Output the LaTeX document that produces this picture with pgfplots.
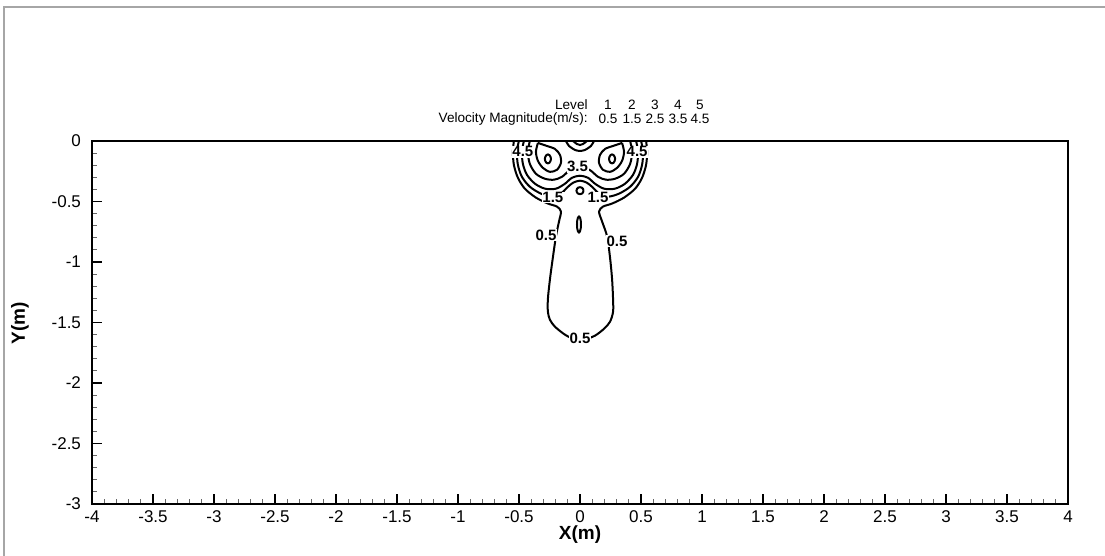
\documentclass[border=0pt]{standalone}
\usepackage{pgfplots}
\pgfplotsset{compat=1.18}
\usepackage{fontspec}
\setmainfont{Liberation Sans}
\begin{document}
\begin{tikzpicture}[x=1pt,y=1pt]
\useasboundingbox (0,0) rectangle (552.5,278);
\draw[gray!70, line width=0.6pt] (2,0) -- (2,274.5) -- (552.5,274.5);
\begin{axis}[
  at={(46pt,26pt)}, anchor=south west,
  scale only axis, width=488pt, height=181.5pt,
  xmin=-4, xmax=4, ymin=-3, ymax=0,
  xtick distance=0.5, ytick distance=0.5,
  minor tick num=4,
  xtick pos=bottom, ytick pos=left,
  tick align=inside,
  major tick length=5pt, minor tick length=2.5pt,
  axis line style={line width=1.2pt},
  major tick style={line width=0.9pt, black},
  minor tick style={line width=0.5pt, black!60},
  every tick label/.append style={font=\fontsize{8.5}{9}\selectfont},
  yticklabel style={xshift=-2pt},
  /pgf/number format/assume math mode=true,
  clip=true,
]
% level 0.5 outer
\addplot[black, line width=1pt, smooth, tension=0.5] coordinates {
(-0.542,0) (-0.550,-0.090) (-0.542,-0.197) (-0.509,-0.304) (-0.452,-0.394) (-0.361,-0.468) (-0.263,-0.517) (-0.189,-0.542) (-0.156,-0.583) (-0.172,-0.665) (-0.197,-0.788) (-0.222,-0.961) (-0.246,-1.141) (-0.263,-1.305) (-0.263,-1.412) (-0.246,-1.478) (-0.205,-1.535) (-0.123,-1.601) (-0.057,-1.634) (0,-1.642) (0.057,-1.634) (0.123,-1.609) (0.197,-1.552) (0.246,-1.494) (0.271,-1.412) (0.271,-1.305) (0.263,-1.141) (0.246,-0.961) (0.222,-0.788) (0.181,-0.665) (0.156,-0.583) (0.189,-0.542) (0.263,-0.517) (0.361,-0.468) (0.452,-0.394) (0.509,-0.304) (0.542,-0.197) (0.550,-0.090) (0.542,0)
};
% level 1.5
\addplot[black, line width=1pt, smooth, tension=0.5] coordinates {
(-0.501,0) (-0.517,-0.090) (-0.509,-0.197) (-0.476,-0.296) (-0.411,-0.378) (-0.320,-0.435) (-0.230,-0.460) (-0.156,-0.435) (-0.107,-0.386) (-0.057,-0.345) (0,-0.328) (0.057,-0.345) (0.107,-0.386) (0.156,-0.435) (0.230,-0.460) (0.320,-0.435) (0.411,-0.378) (0.476,-0.296) (0.509,-0.197) (0.517,-0.090) (0.501,0)
};
% level 2.5
\addplot[black, line width=1pt, smooth, tension=0.5] coordinates {
(-0.460,0) (-0.476,-0.090) (-0.468,-0.189) (-0.435,-0.279) (-0.369,-0.353) (-0.287,-0.394) (-0.197,-0.394) (-0.123,-0.353) (-0.066,-0.304) (0,-0.287) (0.066,-0.304) (0.123,-0.353) (0.197,-0.394) (0.287,-0.394) (0.369,-0.353) (0.435,-0.279) (0.468,-0.189) (0.476,-0.090) (0.460,0)
};
% level 3.5
\addplot[black, line width=1pt, smooth, tension=0.5] coordinates {
(-0.411,0) (-0.427,-0.090) (-0.411,-0.189) (-0.361,-0.271) (-0.287,-0.312) (-0.213,-0.320) (-0.148,-0.296) (-0.090,-0.246) (-0.041,-0.222) (0,-0.213) (0.041,-0.222) (0.090,-0.246) (0.148,-0.296) (0.213,-0.320) (0.287,-0.312) (0.361,-0.271) (0.411,-0.189) (0.427,-0.090) (0.411,0)
};
% vortex teardrops (4.5)
\addplot[black, line width=1pt, smooth, tension=0.5] coordinates {
(-0.345,-0.016) (-0.361,-0.090) (-0.345,-0.164) (-0.304,-0.222) (-0.246,-0.255) (-0.189,-0.238) (-0.156,-0.181) (-0.164,-0.115) (-0.205,-0.066) (-0.271,-0.041) (-0.345,-0.016)
};
\addplot[black, line width=1pt, smooth, tension=0.5] coordinates {
(0.345,-0.016) (0.361,-0.090) (0.345,-0.164) (0.304,-0.222) (0.246,-0.255) (0.189,-0.238) (0.156,-0.181) (0.164,-0.115) (0.205,-0.066) (0.271,-0.041) (0.345,-0.016)
};
% vortex cores
\addplot[black, line width=1pt, smooth, tension=0.6] coordinates {
(-0.238,-0.148) (-0.242,-0.130) (-0.251,-0.116) (-0.263,-0.111) (-0.275,-0.116) (-0.284,-0.130) (-0.288,-0.148) (-0.284,-0.166) (-0.275,-0.180) (-0.263,-0.185) (-0.251,-0.180) (-0.242,-0.166) (-0.238,-0.148)
};
\addplot[black, line width=1pt, smooth, tension=0.6] coordinates {
(0.238,-0.148) (0.242,-0.130) (0.251,-0.116) (0.263,-0.111) (0.275,-0.116) (0.284,-0.130) (0.288,-0.148) (0.284,-0.166) (0.275,-0.180) (0.263,-0.185) (0.251,-0.180) (0.242,-0.166) (0.238,-0.148)
};
% top-centre dips
\addplot[black, line width=1pt, smooth, tension=0.5] coordinates {
(-0.115,0) (-0.090,-0.041) (-0.041,-0.074) (0,-0.082) (0.041,-0.074) (0.090,-0.041) (0.115,0)
};
\addplot[black, line width=1pt, smooth, tension=0.5] coordinates {
(-0.057,0) (-0.025,-0.025) (0,-0.033) (0.025,-0.025) (0.057,0)
};
% centre circle
\addplot[black, line width=1pt, smooth, tension=0.6] coordinates {
(0.0287,-0.4105) (0.0249,-0.3962) (0.0144,-0.3856) (0,-0.3818) (-0.0144,-0.3856) (-0.0249,-0.3962) (-0.0287,-0.4105) (-0.0249,-0.4249) (-0.0144,-0.4354) (0,-0.4392) (0.0144,-0.4354) (0.0249,-0.4249) (0.0287,-0.4105)
};
% stem oval
\addplot[black, line width=1pt, smooth, tension=0.6] coordinates {
(0.0082,-0.690) (0.0060,-0.657) (0.0000,-0.633) (-0.0082,-0.624) (-0.0164,-0.633) (-0.0224,-0.657) (-0.0246,-0.690) (-0.0224,-0.723) (-0.0164,-0.747) (-0.0082,-0.756) (0.0000,-0.747) (0.0060,-0.723) (0.0082,-0.690)
};
% contour labels
\begin{scope}[every node/.style={fill=white, inner sep=0.3pt, font=\bfseries\fontsize{7.5}{8}\selectfont}]
\node at (axis cs:-0.468,-0.090) {4.5};
\node at (axis cs:0.468,-0.090) {4.5};
\node at (axis cs:-0.02,-0.213) {3.5};
\node at (axis cs:-0.222,-0.468) {1.5};
\node at (axis cs:0.148,-0.468) {1.5};
\node at (axis cs:-0.279,-0.780) {0.5};
\node at (axis cs:0.304,-0.829) {0.5};
\node at (axis cs:0,-1.634) {0.5};
\end{scope}
\end{axis}
% axis titles
\node[font=\bfseries\fontsize{9.5}{10}\selectfont] at (290,10.5) {X(m)};
\node[font=\bfseries\fontsize{9.5}{10}\selectfont, rotate=90] at (10,116.5) {Y(m)};
% contour legend
\begin{scope}[every node/.style={font=\fontsize{6.8}{7.5}\selectfont, inner sep=0pt}]
\node[anchor=east] at (294,225.5) {Level};
\node[anchor=east] at (294,218.5) {Velocity Magnitude(m/s):};
\node at (304,225.5) {1};
\node at (316,225.5) {2};
\node at (327.5,225.5) {3};
\node at (339,225.5) {4};
\node at (350,225.5) {5};
\node at (304,218.5) {0.5};
\node at (316,218.5) {1.5};
\node at (327.5,218.5) {2.5};
\node at (339,218.5) {3.5};
\node at (350,218.5) {4.5};
\end{scope}
\end{tikzpicture}
\end{document}
